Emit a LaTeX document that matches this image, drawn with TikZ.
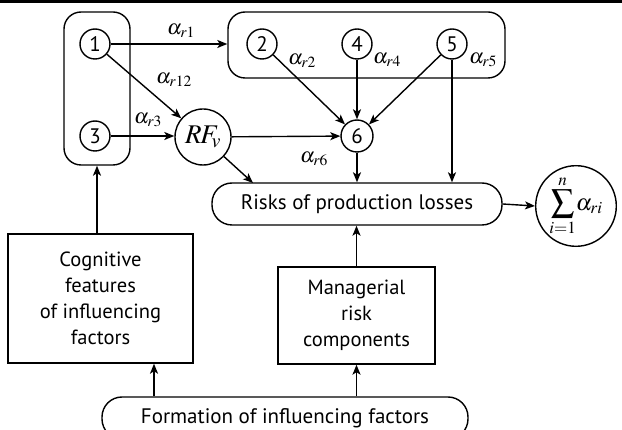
\documentclass[tikz,border=0pt]{standalone}
\usepackage{mathptmx}
\usepackage{fontspec}
\setmainfont{PT Sans}
\usetikzlibrary{arrows.meta}

\tikzset{
  every picture/.style={line width=1.4pt},
  arr/.style={-{Stealth[length=10pt,width=8pt,inset=2.5pt]}},
  num/.style={circle,draw,inner sep=0pt,minimum size=30pt,font=\fontsize{21}{24}\selectfont},
  group/.style={draw,rounded corners=17pt},
  rbox/.style={draw,rounded corners=20pt,font=\fontsize{21}{24}\selectfont},
  sbox/.style={draw,align=center,font=\fontsize{20.5}{26}\selectfont},
  lab/.style={font=\fontsize{21}{22}\selectfont,inner sep=0pt},
}

\begin{document}
\begin{tikzpicture}[x=1pt,y=-1pt]
  \useasboundingbox (0,0) rectangle (622,430);
  % header rule
  \fill (0,0) rectangle (622,3);

  % groups of factors
  \node[group,minimum width=66pt,minimum height=153pt] (grpL) at (97,88.5) {};
  \node[group,minimum width=277pt,minimum height=66pt] (grpT) at (366.5,45) {};

  % factor nodes
  \node[num] (n1) at (95,44) {1};
  \node[num] (n3) at (95,136) {3};
  \node[num] (n2) at (262,44) {2};
  \node[num] (n4) at (357,44) {4};
  \node[num] (n5) at (452,44) {5};
  \node[num,minimum size=32pt] (n6) at (357,136) {6};
  \node[circle,draw,inner sep=0pt,minimum size=56pt,font=\fontsize{27}{28}\selectfont] (rf) at (203,137) {$R\mkern-1mu F_{\mkern-2mu v}$};

  % result nodes
  \node[rbox,minimum width=290pt,minimum height=42pt] (risks) at (357,204) {Risks of production losses};
  \node[circle,draw,inner sep=0pt,minimum size=80pt,font=\fontsize{23}{26}\selectfont] (sum) at (576,206) {$\displaystyle\sum_{i=1}^{n}\!\alpha_{ri}$};

  % source boxes
  \node[sbox,minimum width=185pt,minimum height=129pt] (cog) at (100.5,298.5) {Cognitive\\features\\of influencing\\factors};
  \node[sbox,minimum width=157pt,minimum height=97pt] (man) at (356.5,315.5) {Managerial\\risk\\components};
  \node[rbox,minimum width=366pt,minimum height=42pt] (form) at (285,418) {Formation of influencing factors};

  % free ends
  \coordinate (rfin) at (253,183);
  \coordinate (fcog) at (154,0);

  % connectors
  \draw[arr] (n1.east) -- (n1.east -| grpT.west);
  \draw[arr] (n1) -- (rf);
  \draw[arr] (n3.east) -- (n3.east -| rf.west);
  \draw[arr] (rf) -- (n6);
  \draw[arr] (n2) -- (n6);
  \draw[arr] (n4) -- (n6);
  \draw[arr] (n5) -- (n6);
  \draw[arr] (n5.south) -- (n5.south |- risks.north);
  \draw[arr] (n6.south) -- (n6.south |- risks.north);
  \draw[arr] (rf.-43) -- (rfin);
  \draw[arr] (risks.east) -- (sum.west);
  \draw[arr] (grpL.south |- cog.north) -- (grpL.south);
  \draw[arr] (fcog |- form.north) -- (fcog |- cog.south);
  \draw[arr] (man.north) -- (man.north |- risks.south);
  \draw[arr] (man.south |- form.north) -- (man.south);

  % weights
  \node[lab] at (181,31) {$\alpha_{r1}$};
  \node[lab] at (174,80) {$\alpha_{r12}$};
  \node[lab] at (148,120) {$\alpha_{r3}$};
  \node[lab] at (302,61) {$\alpha_{r2}$};
  \node[lab] at (387,60) {$\alpha_{r4}$};
  \node[lab] at (483,60) {$\alpha_{r5}$};
  \node[lab] at (314,159) {$\alpha_{r6}$};
\end{tikzpicture}
\end{document}
